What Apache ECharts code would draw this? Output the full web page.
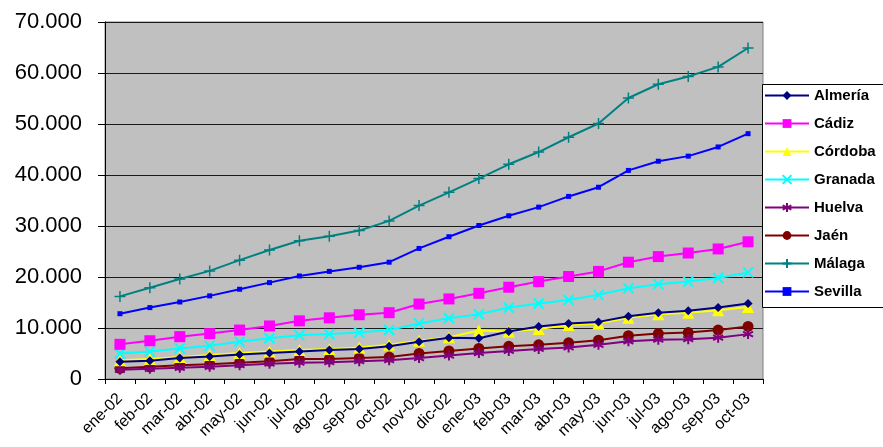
<!DOCTYPE html>
<html>
<head>
<meta charset="utf-8">
<script src="https://cdn.jsdelivr.net/npm/echarts@6/dist/echarts.min.js"></script>
<style>
html,body{margin:0;padding:0;background:#fff;}
#chart{width:883px;height:447px;}
</style>
</head>
<body>
<div id="chart"></div>
<script>
const categories = ['ene-02','feb-02','mar-02','abr-02','may-02','jun-02','jul-02','ago-02','sep-02','oct-02','nov-02','dic-02','ene-03','feb-03','mar-03','abr-03','may-03','jun-03','jul-03','ago-03','sep-03','oct-03'];
const yTicks = [0, 10000, 20000, 30000, 40000, 50000, 60000, 70000];

const almeria = [3400, 3600, 4100, 4400, 4800, 5100, 5400, 5700, 5900, 6400, 7300, 8100, 8000, 9300, 10300, 10900, 11200, 12300, 13000, 13400, 14000, 14800];
const cadiz   = [6800, 7500, 8300, 8900, 9600, 10400, 11400, 12000, 12600, 13000, 14700, 15700, 16800, 18000, 19100, 20100, 21100, 22900, 24000, 24700, 25500, 26900];
const cordoba = [3700, 3900, 4300, 4700, 5100, 5400, 5700, 5900, 6200, 6700, 7500, 8200, 9500, 9300, 9800, 10600, 10900, 12000, 12700, 13000, 13500, 14100];
const granada = [5000, 5400, 6000, 6500, 7300, 8000, 8600, 8800, 9100, 9600, 10900, 11900, 12700, 14000, 14800, 15500, 16500, 17800, 18600, 19100, 19800, 20900];
const huelva  = [1800, 2000, 2200, 2400, 2700, 3000, 3200, 3300, 3500, 3700, 4100, 4600, 5100, 5500, 5900, 6200, 6700, 7400, 7700, 7800, 8100, 8800];
const jaen    = [2100, 2400, 2700, 2900, 3200, 3500, 3900, 3900, 4100, 4300, 5000, 5500, 6000, 6400, 6700, 7100, 7600, 8500, 8900, 9100, 9600, 10300];
const malaga  = [16200, 17900, 19600, 21200, 23300, 25300, 27100, 28000, 29100, 31000, 34000, 36600, 39300, 42100, 44500, 47400, 50100, 55100, 57800, 59300, 61200, 64900];
const sevilla = [12800, 14000, 15100, 16300, 17600, 18900, 20200, 21100, 21900, 22900, 25600, 27900, 30100, 32000, 33700, 35800, 37600, 40900, 42700, 43700, 45500, 48100];

const seriesNames = ['Almería','Cádiz','Córdoba','Granada','Huelva','Jaén','Málaga','Sevilla'];
const seriesData = [almeria, cadiz, cordoba, granada, huelva, jaen, malaga, sevilla];

const styles = [
  {color:'#000080', symbol:'diamond', size:9},
  {color:'#FF00FF', symbol:'rect', size:11},
  {color:'#FFFF00', symbol:'triangle', size:12},
  {color:'#00FFFF', symbol:'path://M0,0L10,10M10,0L0,10', size:10, stroke:2},
  {color:'#800080', symbol:'path://M5,0L5,10M0.7,2.5L9.3,7.5M0.7,7.5L9.3,2.5', size:10, stroke:2},
  {color:'#800000', symbol:'circle', size:11},
  {color:'#008080', symbol:'path://M5,0L5,10M0,5L10,5', size:11, stroke:1.5},
  {color:'#0000FF', symbol:'rect', size:5}
];

function fmt(v){ return String(v).replace(/\B(?=(\d{3})+(?!\d))/g, '.'); }

const chart = echarts.init(document.getElementById('chart'), null, {renderer:'canvas'});
chart.setOption({
  animation:false,
  backgroundColor:'#ffffff',
  grid:{left:105, top:22, right:120, bottom:68, show:true, backgroundColor:'#C0C0C0', borderColor:'#808080', borderWidth:1},
  graphic:[{
    type:'rect', left:762, top:84, z:1,
    shape:{width:200, height:223},
    style:{fill:'#ffffff', stroke:'#000000', lineWidth:1}
  }],
  legend:{
    orient:'vertical', left:764, top:88,
    data: seriesNames,
    padding:0,
    itemWidth:44, itemHeight:11, itemGap:13,
    textStyle:{fontFamily:'Liberation Sans, Arial, sans-serif', fontWeight:'bold', fontSize:15, color:'#000'}
  },
  xAxis:{
    type:'category', data:categories, boundaryGap:true,
    axisLine:{lineStyle:{color:'#000', width:1}},
    axisTick:{show:true, length:5, lineStyle:{color:'#000'}},
    axisLabel:{rotate:45, fontSize:16, fontFamily:'Liberation Sans, Arial, sans-serif', color:'#000', margin:17, interval:0}
  },
  yAxis:{
    type:'value', min:yTicks[0], max:yTicks[yTicks.length-1], interval:10000,
    axisLine:{show:true, lineStyle:{color:'#000'}},
    axisTick:{show:true, length:7, lineStyle:{color:'#000'}},
    splitLine:{show:true, lineStyle:{color:'#1a1a1a', width:1}},
    axisLabel:{fontSize:22, fontFamily:'Liberation Sans, Arial, sans-serif', color:'#000', margin:23, formatter:fmt}
  },
  series: seriesNames.map((n,i)=>({
    name:n, type:'line', data:seriesData[i],
    symbol:styles[i].symbol, symbolSize:styles[i].size,
    lineStyle:{color:styles[i].color, width:2},
    itemStyle: styles[i].stroke ? {color:styles[i].color, borderColor:styles[i].color, borderWidth:styles[i].stroke} : {color:styles[i].color, borderWidth:0},
    z: 10 - i
  }))
});
</script>
</body>
</html>
